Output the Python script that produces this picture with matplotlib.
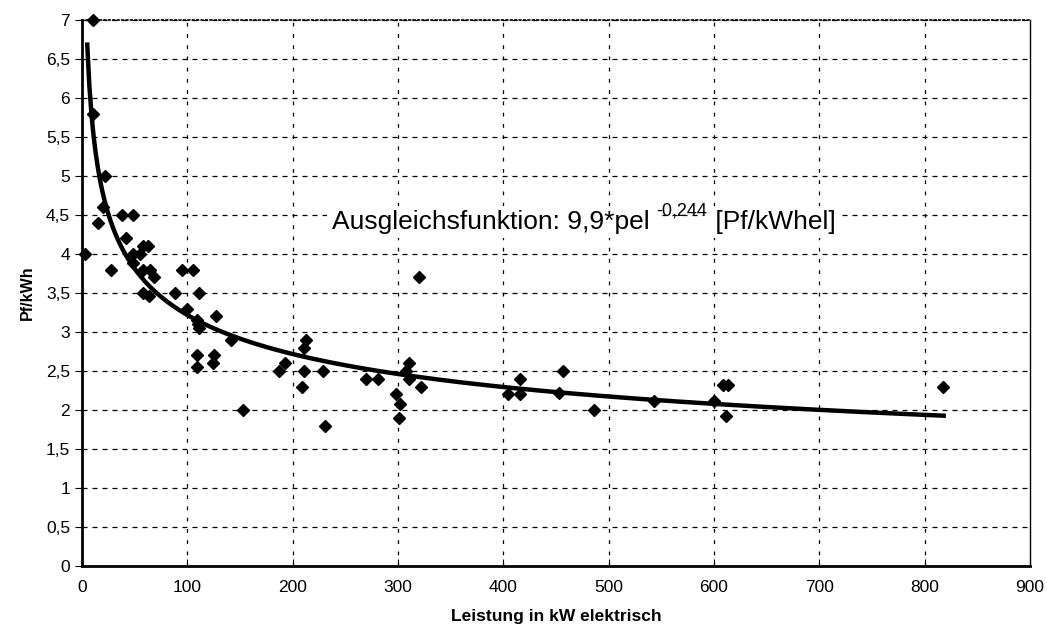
import numpy as np
import matplotlib
matplotlib.use("Agg")
import matplotlib.pyplot as plt
from matplotlib.ticker import FuncFormatter

# Messwerte: Leistung in kW elektrisch, Preis in Pf/kWh
leistung = [3, 10.8, 10.2, 15.5, 20.3, 22, 28, 38, 48, 41.5,
            48, 55, 58, 63, 48.8, 58, 64.6, 68, 58, 64,
            88, 95, 105, 111, 99.5, 109, 110.6, 111.5, 127, 141,
            109, 125, 109.6, 124, 153, 186.6, 193, 213, 211, 211,
            209, 229, 231, 270, 281, 320, 298.5, 302, 300.7, 310,
            307.7, 310.5, 322, 404.6, 415.6, 415.6, 457, 453, 486, 543,
            600, 608.6, 612.8, 611, 817]
preis = [4.0, 7.0, 5.8, 4.4, 4.6, 5.0, 3.8, 4.5, 4.5, 4.2,
         4.0, 4.0, 4.1, 4.1, 3.88, 3.8, 3.8, 3.7, 3.5, 3.46,
         3.5, 3.8, 3.8, 3.5, 3.3, 3.15, 3.1, 3.05, 3.2, 2.9,
         2.7, 2.7, 2.55, 2.6, 2.0, 2.5, 2.6, 2.9, 2.8, 2.5,
         2.3, 2.5, 1.8, 2.4, 2.4, 3.7, 2.2, 2.08, 1.9, 2.6,
         2.5, 2.4, 2.3, 2.2, 2.2, 2.4, 2.5, 2.22, 2.0, 2.12,
         2.12, 2.32, 2.32, 1.92, 2.29]

# Ausgleichsfunktion y = a * x^b
a_fit = 9.9
b_fit = -0.244
x_start, x_end = 5, 818

xticks = list(range(0, 901, 100))
yticks = [i * 0.5 for i in range(15)]

plt.rcParams['font.family'] = ['Liberation Sans', 'DejaVu Sans']

fig = plt.figure(figsize=(10.47, 6.3), dpi=100)
ax = fig.add_axes([0.0783, 0.1016, 0.9055, 0.8666])

xs = np.linspace(x_start, x_end, 400)
ax.plot(xs, a_fit * xs ** b_fit, color='black', lw=3.2, zorder=3)
ax.plot(leistung, preis, 'D', color='black', ms=6, zorder=4, clip_on=False)

ax.set_xlim(0, 900)
ax.set_ylim(0, 7)
ax.set_xticks(xticks)
ax.set_yticks(yticks)
ax.yaxis.set_major_formatter(FuncFormatter(lambda v, p: ('%g' % v).replace('.', ',')))

for y in yticks[1:]:
    ax.axhline(y, color='black', lw=0.9, ls=(0, (4, 4)), zorder=1)
for x in xticks[1:-1]:
    ax.axvline(x, color='black', lw=0.9, ls=(0, (3, 6)), zorder=1)

ax.spines['left'].set_linewidth(2)
ax.spines['bottom'].set_linewidth(2)
ax.spines['right'].set_linewidth(1)
ax.spines['top'].set_linewidth(1.2)
ax.spines['top'].set_linestyle(':')

ax.tick_params(axis='x', direction='in', length=5, labelsize=12.5, pad=10)
ax.tick_params(axis='y', direction='out', length=5, labelsize=12.5)

ax.set_xlabel('Leistung in kW elektrisch', fontsize=12.5, fontweight='bold',
              family=['Liberation Sans Narrow', 'Liberation Sans'], labelpad=10)
ax.set_ylabel('Pf/kWh', fontsize=11.5, fontweight='bold', labelpad=8)

# Beschriftung der Ausgleichsfunktion (mit Hochstellung)
box = dict(facecolor='white', edgecolor='none', pad=3)
t1 = ax.text(237, 4.32, 'Ausgleichsfunktion: 9,9*pel ', fontsize=19,
             va='baseline', zorder=5, bbox=box)
t2 = ax.annotate('-0,244', xy=(1, 0.62), xycoords=t1, fontsize=13,
                 va='bottom', ha='left', zorder=7)
ax.annotate(' [Pf/kWhel]', xy=(1, 0), xycoords=(t2, t1), fontsize=19,
            va='bottom', ha='left', zorder=5, bbox=box)

fig.savefig('out.png', dpi=100)
